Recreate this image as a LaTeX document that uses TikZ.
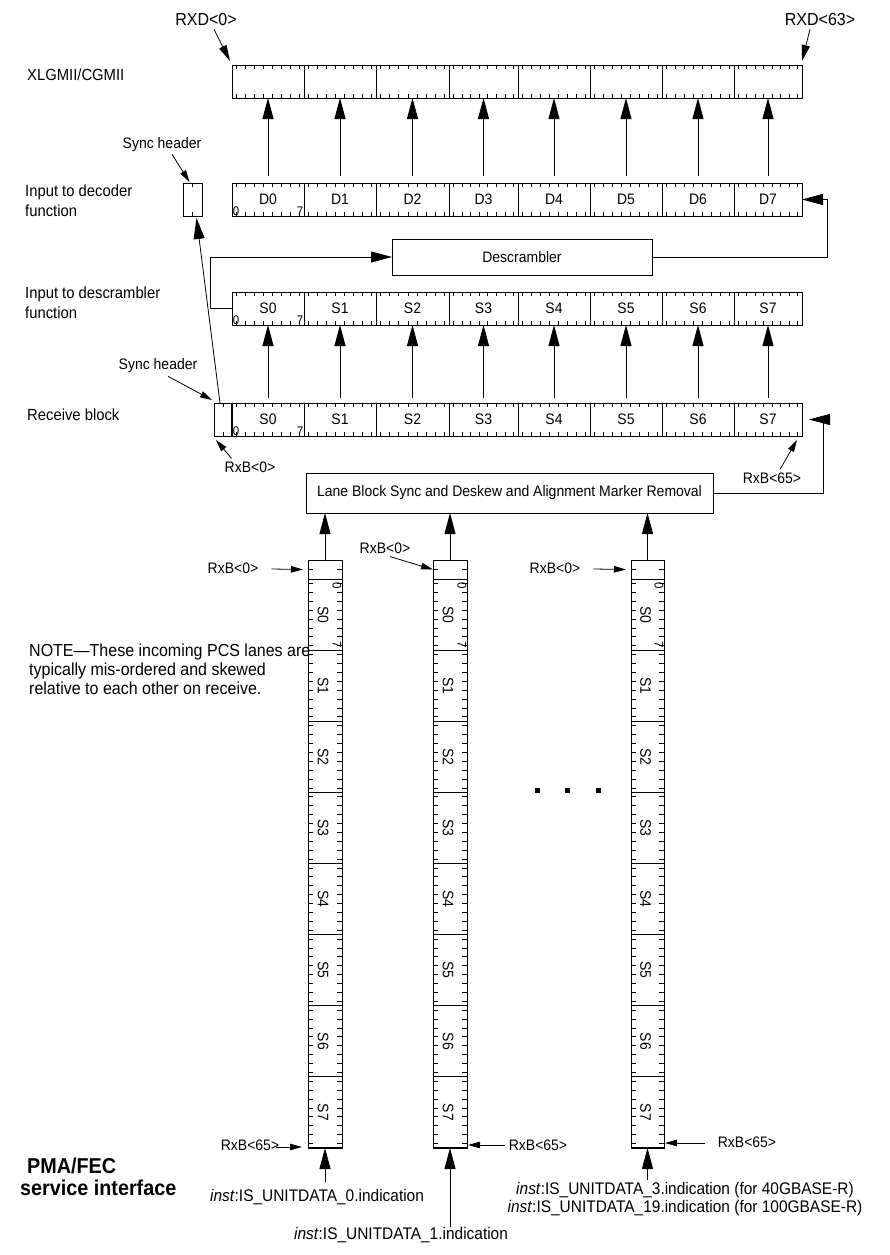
\documentclass[tikz,border=0pt]{standalone}
\usepackage{fontspec}
\setmainfont{Liberation Sans}[FakeStretch=0.92]
\usetikzlibrary{arrows.meta,calc}

\newcommand\HRow[4]{%
  \foreach \ii/\xa/\xb in {0/232/304,1/304/376,2/376/449,3/449/518,4/518/590,5/590/662,6/662/734,7/734/802}{%
    \node[seg,minimum width={\xb-\xa},minimum height={#3-#2}] (#1\ii) at ({(\xa+\xb)/2},{(#2+#3)/2}) {#4};
    \foreach \kk in {0,...,7}{%
      \draw[tk] ({\xa+(\kk+0.5)*(\xb-\xa)/8},#2) -- ++(0,4);
      \draw[tk] ({\xa+(\kk+0.5)*(\xb-\xa)/8},#3) -- ++(0,-4);
    }%
  }%
}

\newcommand\VLane[3]{%
  \node[seg,minimum width={#3-#2},minimum height=19] (#1h) at ({(#2+#3)/2},569.5) {};
  \draw[tk] (#2,569.5) -- ++(5,0);
  \draw[tk] (#3,569.5) -- ++(-5,0);
  \foreach \ii in {0,...,7}{%
    \pgfmathsetmacro\yt{579+\ii*71.125}%
    \node[seg,minimum width={#3-#2},minimum height=71.125] (#1\ii) at ({(#2+#3)/2},{\yt+35.5625}) {};
    \node[txt,rotate=-90] (#1t\ii) at ({(#2+#3)/2-2},{\yt+35.5625}) {S\ii};
    \foreach \kk in {0,...,7}{%
      \draw[tk] (#2,{\yt+(\kk+0.5)*8.890625}) -- ++(5,0);
      \draw[tk] (#3,{\yt+(\kk+0.5)*8.890625}) -- ++(-5,0);
    }%
  }%
  \draw[line width=1.8pt] (#17.south west) -- (#17.south east);
  \node[dig,rotate=-90] (#1z) at ({#3-5},586) {0};
  \node[dig,rotate=-90] (#1s) at ({#3-5},645) {7};
}

\begin{document}
\begin{tikzpicture}[x=1pt,y=-1pt,
  seg/.style={draw,line width=0.8pt,inner sep=0pt,outer sep=0pt,font=\fontsize{15.2}{17}\selectfont},
  tk/.style={line width=0.8pt},
  big/.style={line width=0.8pt,-{Triangle[length=21pt,width=11pt]}},
  med/.style={line width=0.8pt,-{Triangle[length=16pt,width=8pt]}},
  sml/.style={line width=0.8pt,-{Triangle[length=12pt,width=6.5pt]}},
  txt/.style={inner sep=0pt,font=\fontsize{15.2}{17}\selectfont},
  side/.style={inner sep=0pt,font=\fontsize{16.1}{19.5}\selectfont,align=left,anchor=west},
  dig/.style={inner sep=0.6pt,font=\fontsize{12.5}{13}\selectfont}]

\fill[white] (0,0) rectangle (889,1255);
\useasboundingbox (0,0) rectangle (889,1255);

% horizontal rows
\HRow{x}{65}{98}{}
\HRow{d}{183}{216}{D\ii}
\HRow{s}{292}{325}{S\ii}
\HRow{r}{403}{436}{S\ii}

% sync header boxes
\node[seg,minimum width=19,minimum height=33] (usync) at (192.5,199.5) {};
\draw[tk] (192.5,183) -- ++(0,4);
\draw[tk] (192.5,216) -- ++(0,-4);
\node[seg,minimum width=18,minimum height=33] (rsync) at (223,419.5) {};
\draw[tk] (223,403) -- ++(0,4);
\draw[tk] (223,436) -- ++(0,-4);
\draw[line width=1.6pt] (r0.north west) -- (r0.south west);

% bit numbers
\foreach \p in {d,s,r}{%
  \node[dig,anchor=south west] (\p-zero) at (\p0.south west) {0};
  \node[dig,anchor=south east] (\p-seven) at (\p0.south east) {7};
}

% left labels
\node[side] (lx) at (27,75) {XLGMII/CGMII};
\node[side] (ldec) at (25,200.5) {Input to decoder\\function};
\node[side] (ldes) at (25,302.5) {Input to descrambler\\function};
\node[side] (lrb) at (27,415) {Receive block};

% RXD labels
\node[txt,font=\fontsize{17.4}{19}\selectfont] (rxd0) at (206,20) {RXD<0>};
\node[txt,font=\fontsize{17.4}{19}\selectfont] (rxd63) at (820,20) {RXD<63>};
\draw[med] ($(rxd0.south)+(8,3)$) -- ($(x0.north west)+(-2,-4)$);
\draw[med] ($(rxd63.south)+(-10,3)$) -- ($(x7.north east)+(0,-4)$);

% sync header labels
\node[txt] (sh1) at (162,145) {Sync header};
\node[txt] (sh2) at (158,366) {Sync header};
\draw[sml] ($(sh1.south)+(10,2)$) -- ($(usync.north)+(-3,-1)$);
\draw[sml] ($(sh2.south)+(10,3)$) -- ($(rsync.north west)+(-2,-3)$);

% descrambler and lane box
\node[seg,minimum width=260,minimum height=36] (desc) at (522,257) {Descrambler};
\node[seg,minimum width=407,minimum height=40] (lbox) at (509.5,493) {Lane Block Sync and Deskew and Alignment Marker Removal};

% vertical lanes
\VLane{la}{308}{342}
\VLane{lb}{433}{467}
\VLane{lc}{631}{664}

% arrows between rows
\foreach \ii in {0,...,7}{%
  \draw[big] ($(d\ii.north)+(0,-7)$) -- (x\ii.south);
  \draw[big] ($(r\ii.north)+(0,-5)$) -- (s\ii.south);
}
\draw[big] (s0.west) -- ++(-22,0) |- (desc.west);
\draw[big] (desc.east) -- ++(175,0) |- (d7.east);
\coordinate (rin) at (809,419.5);
\draw[big] (lbox.east) -- ++(110,0) |- (rin);
\draw[big] ($(rsync.north)+(-3,0)$) -- ($(usync.south)+(4,2)$);

\foreach \q in {la,lb,lc}{%
  \draw[big] (\q h.north) -- (\q h.north |- lbox.south);
}

% receive block labels
\node[txt] (t0r) at (250,467) {RxB<0>};
\node[txt] (t65r) at (772,478) {RxB<65>};
\draw[sml] ($(t0r.north west)+(7,-3)$) -- ($(rsync.south west)+(2,4)$);
\draw[sml] ($(t65r.north)+(8,-3)$) -- ($(r7.south east)+(-5,4)$);

% lane top labels
\node[txt] (t0a) at (233,568) {RxB<0>};
\draw[sml] ($(t0a.east)+(13,1)$) -- ($(lah.west)+(-5,0)$);
\node[txt] (t0b) at (385,548) {RxB<0>};
\draw[sml] ($(t0b.south)+(5,3)$) -- (lbh.west);
\node[txt] (t0c) at (555,568) {RxB<0>};
\draw[sml] ($(t0c.east)+(13,1)$) -- ($(lch.west)+(-5,0)$);

% lane bottom labels
\node[txt] (t65a) at (250,1145) {RxB<65>};
\draw[sml] ($(t65a.east)+(-3,2)$) -- ($(la7.south west)+(-6,-1)$);
\node[txt] (t65b) at (538,1145) {RxB<65>};
\draw[sml] ($(t65b.west)+(-4,0)$) -- ($(lb7.south east)+(1,-3)$);
\node[txt] (t65c) at (747,1142) {RxB<65>};
\draw[sml] ($(t65c.west)+(-13,1)$) -- ($(lc7.south east)+(1,-5)$);

% bottom inputs
\coordinate (ba) at (325,1182);
\coordinate (bb) at (450,1227);
\coordinate (bc) at (647.5,1180);
\draw[big] (ba) -- (la7.south);
\draw[big] (bb) -- (lb7.south);
\draw[big] (bc) -- (lc7.south);
\node[txt,font=\fontsize{16.8}{18}\selectfont] (i0) at (317,1197) {\textit{inst}:IS\_UNITDATA\_0.indication};
\node[txt,font=\fontsize{16.8}{18}\selectfont] (i1) at (401,1235) {\textit{inst}:IS\_UNITDATA\_1.indication};
\node[txt,font=\fontsize{16.8}{18}\selectfont,align=center] (i3) at (685,1199) {\textit{inst}:IS\_UNITDATA\_3.indication (for 40GBASE-R)\\\textit{inst}:IS\_UNITDATA\_19.indication (for 100GBASE-R)};

% note
\node[inner sep=0pt,font=\fontsize{17.4}{19}\selectfont,align=left,anchor=west] (note) at (29,669) {NOTE—These incoming PCS lanes are\\typically mis-ordered and skewed\\relative to each other on receive.};

% PMA/FEC
\node[inner sep=0pt,font=\bfseries\fontsize{21.5}{22}\selectfont,align=left,anchor=west] (pma) at (20,1177) {\hspace*{7pt}PMA/FEC\\service interface};

% dots
\foreach \xx in {537,567,598}{%
  \fill (\xx-2.5,787.5) rectangle ++(5,5);
}
\end{tikzpicture}
\end{document}
